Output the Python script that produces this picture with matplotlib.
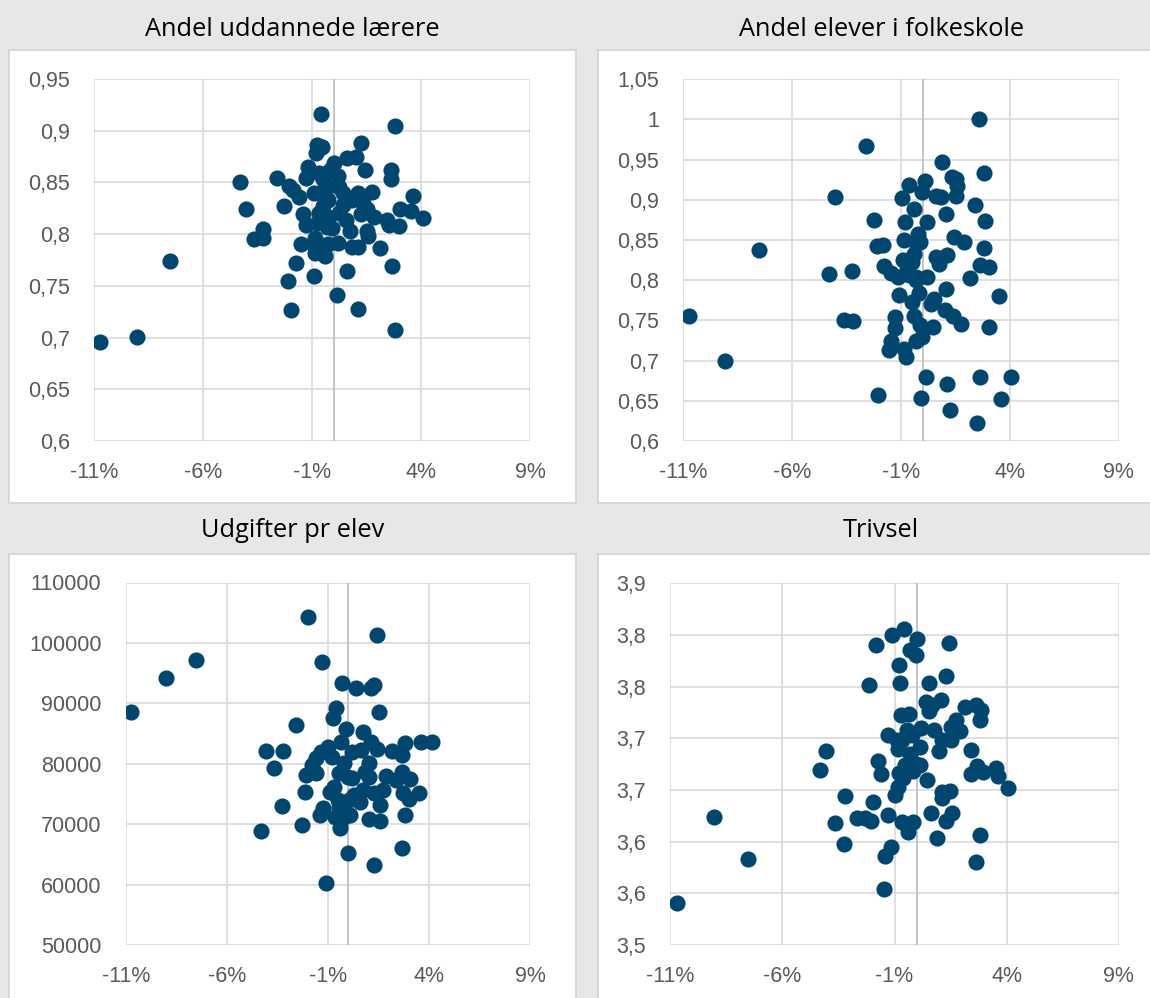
import matplotlib
matplotlib.use("Agg")
import matplotlib.pyplot as plt
from matplotlib.patches import Rectangle
from matplotlib.ticker import FuncFormatter, MultipleLocator
from decimal import Decimal, ROUND_HALF_UP

# x: aendring i procent, y: panelets variabel
titles = ["Andel uddannede lærere", "Andel elever i folkeskole",
          "Udgifter pr elev", "Trivsel"]

x1 = [-10.75, -9.06, -7.53, -4.32, -4.05, -3.26, -3.66, -3.26, -2.60, -2.31,
      -2.08, -1.86, -1.60, -1.44, -1.30, -1.49, -1.76, -2.11, -1.99, -0.92,
      -0.85, -0.88, -0.42, -0.60, -0.77, -0.55, -0.82, -1.19, -1.27, -0.93,
      -0.68, -0.51, -0.34, -0.25, -0.51, -0.68, -0.77, -0.25, -0.08, 0.00,
      0.17, 0.25, 0.42, 0.42, 0.54, 0.76, 0.17, -0.25, 0.59, 1.03,
      1.26, 1.42, 1.09, 1.76, 1.34, 1.26, 1.54, 1.56, 1.84, 0.84,
      1.12, 2.13, 0.62, 0.12, 1.09, 2.67, 2.80, 2.80, 2.62, 2.62,
      2.43, 2.55, 2.99, 3.02, 3.53, 3.61, 4.08, -0.98, -0.17, -0.68,
      -0.34, 0.25, 0.84, 1.51]
y1 = [0.696, 0.701, 0.774, 0.850, 0.824, 0.805, 0.795, 0.796, 0.854, 0.827,
      0.847, 0.843, 0.836, 0.819, 0.809, 0.790, 0.772, 0.755, 0.727, 0.760,
      0.796, 0.782, 0.779, 0.916, 0.886, 0.884, 0.878, 0.865, 0.854, 0.840,
      0.859, 0.853, 0.846, 0.833, 0.827, 0.820, 0.811, 0.817, 0.806, 0.869,
      0.856, 0.846, 0.840, 0.828, 0.814, 0.803, 0.791, 0.790, 0.874, 0.875,
      0.888, 0.862, 0.840, 0.841, 0.830, 0.819, 0.803, 0.798, 0.817, 0.788,
      0.788, 0.787, 0.764, 0.741, 0.728, 0.769, 0.707, 0.905, 0.862, 0.853,
      0.814, 0.809, 0.808, 0.824, 0.822, 0.837, 0.816, 0.790, 0.862, 0.840,
      0.807, 0.820, 0.833, 0.824]

x2 = [-10.73, -9.06, -7.52, -4.05, -4.30, -3.26, -3.63, -3.22, -2.62, -2.25,
      -2.08, -1.83, -1.78, -1.45, -1.15, -2.06, -1.57, -1.45, -1.27, -1.27,
      -1.10, -0.95, -0.65, -0.81, -0.39, -0.87, -0.31, -0.14, -0.39, -0.93,
      -0.48, -0.73, -0.31, 0.20, -0.48, -0.19, -0.39, -0.14, 0.45, -0.87,
      -0.76, -0.31, -0.05, -0.09, 0.14, 0.11, -0.05, 0.20, 0.62, 0.82,
      0.90, 1.07, 0.62, 0.75, 1.09, 1.07, 0.50, 0.36, 1.00, 1.37,
      1.76, 1.45, 1.88, 1.32, 1.54, 1.59, 1.51, 2.38, 2.80, 2.84,
      2.80, 2.64, 3.02, 2.16, 3.51, 3.02, 2.60, 2.64, 1.09, 1.24,
      2.47, 3.61, 4.07, -0.22, -0.31, -0.61]
y2 = [0.756, 0.700, 0.838, 0.903, 0.808, 0.812, 0.750, 0.749, 0.967, 0.875,
      0.842, 0.844, 0.818, 0.809, 0.804, 0.657, 0.713, 0.724, 0.740, 0.754,
      0.782, 0.902, 0.919, 0.873, 0.889, 0.850, 0.846, 0.848, 0.833, 0.825,
      0.823, 0.813, 0.804, 0.804, 0.773, 0.784, 0.755, 0.744, 0.742, 0.714,
      0.705, 0.724, 0.730, 0.653, 0.680, 0.923, 0.910, 0.873, 0.905, 0.904,
      0.947, 0.883, 0.829, 0.820, 0.831, 0.789, 0.777, 0.771, 0.763, 0.755,
      0.745, 0.854, 0.848, 0.929, 0.926, 0.917, 0.905, 0.894, 0.934, 0.874,
      0.840, 0.819, 0.816, 0.803, 0.780, 0.742, 1.000, 0.680, 0.671, 0.639,
      0.623, 0.652, 0.680, 0.858, 0.800, 0.806]

x3 = [-10.73, -9.01, -7.50, -4.33, -4.05, -3.24, -3.64, -3.28, -2.60, -2.00,
      -1.28, -2.28, -2.12, -2.06, -1.57, -1.79, -1.57, -1.34, -1.10, -1.39,
      -1.24, -0.97, -0.79, -0.88, -0.70, -0.52, -0.65, -0.39, -0.25, 0.11,
      -0.61, -0.74, -0.28, -0.10, -0.34, -0.19, -0.43, 0.00, 0.21, 0.00,
      0.39, 1.11, 1.29, 1.42, 1.51, 0.75, 0.66, 0.21, 1.11, 1.42,
      1.02, 0.84, 1.02, 0.30, 0.57, 0.75, 1.29, 1.75, 1.57, 1.02,
      1.57, 1.26, 2.65, 1.89, 2.16, 2.65, 2.83, 2.38, 2.65, 3.07,
      2.74, 3.02, 3.52, 2.80, 3.61, 4.14, -0.43, 0.04]
y3 = [88600, 94230, 97150, 68860, 82150, 82150, 79230, 73000, 86400, 104320,
      96880, 69850, 75370, 78130, 78400, 79780, 80880, 81990, 60200, 71500,
      72600, 82800, 81160, 75370, 76200, 74000, 71230, 69300, 70960, 71500,
      89160, 87500, 93400, 85680, 83640, 80060, 78400, 77850, 77580, 65280,
      92470, 92470, 93020, 101290, 88600, 85300, 82260, 81990, 83640, 82370,
      80060, 78680, 77850, 74820, 73720, 75650, 75100, 75650, 73160, 70790,
      70520, 63240, 66100, 77960, 82150, 81440, 83370, 77300, 78680, 77410,
      75100, 74100, 75100, 71500, 83640, 83640, 72890, 74000]

x4 = [-10.72, -9.07, -7.52, -4.33, -4.05, -3.23, -3.64, -3.26, -2.66, -2.33,
      -2.04, -1.97, -1.76, -1.60, -2.12, -1.84, -1.10, -0.58, -0.01, -0.29,
      -0.04, -0.81, -0.75, 0.53, 1.30, 1.43, 0.41, 0.66, 1.05, 0.53,
      -0.73, -0.37, -1.27, -0.89, -0.45, -0.21, 0.20, 0.12, -0.86, -0.29,
      -0.53, 0.12, -0.17, -0.81, -0.62, -0.86, -0.98, 0.45, 0.77, 1.10,
      0.99, 1.51, 1.92, 1.51, 1.76, 2.13, 2.62, 2.87, 2.79, 2.41,
      2.41, 2.69, 2.95, 3.52, 3.60, 4.08, 1.10, 1.46, 1.10, 0.61,
      1.54, 1.30, 0.89, 2.82, 2.65, -1.27, -0.65, -0.17, -0.42, -1.16,
      -1.43, -1.48, -0.13, -0.65]
y4 = [3.541, 3.624, 3.583, 3.669, 3.688, 3.644, 3.618, 3.598, 3.623, 3.623,
      3.620, 3.638, 3.678, 3.665, 3.752, 3.790, 3.800, 3.806, 3.796, 3.785,
      3.781, 3.771, 3.754, 3.754, 3.760, 3.792, 3.735, 3.732, 3.737, 3.726,
      3.723, 3.724, 3.703, 3.698, 3.708, 3.703, 3.710, 3.692, 3.690, 3.685,
      3.674, 3.674, 3.668, 3.666, 3.662, 3.653, 3.645, 3.660, 3.708, 3.698,
      3.688, 3.698, 3.707, 3.711, 3.718, 3.730, 3.732, 3.727, 3.718, 3.689,
      3.665, 3.673, 3.667, 3.671, 3.664, 3.652, 3.648, 3.649, 3.642, 3.628,
      3.628, 3.620, 3.604, 3.606, 3.580, 3.626, 3.619, 3.619, 3.609, 3.595,
      3.586, 3.554, 3.676, 3.698]

xs = [x1, x2, x3, x4]
ys = [y1, y2, y3, y4]
ylims = [(0.6, 0.95, 0.05), (0.6, 1.05, 0.05), (50000, 110000, 10000), (3.5, 3.85, 0.05)]

W, H = 1150, 998
BG = "#e7e7e7"
DOT = "#00466e"
GRID = "#d9d9d9"
TICK = "#595959"


def frac(l, t, r, b):
    return [l / W, 1 - b / H, (r - l) / W, (b - t) / H]


def fmt_general(v, pos):
    s = f"{v:.2f}".rstrip("0").rstrip(".")
    return s.replace(".", ",")


def fmt_int(v, pos):
    return f"{int(round(v))}"


def fmt_one(v, pos):
    d = Decimal(str(round(v, 4))).quantize(Decimal("0.1"), rounding=ROUND_HALF_UP)
    return str(d).replace(".", ",")


def fmt_pct(v, pos):
    return f"{int(round(v))}%"


yfmts = [fmt_general, fmt_general, fmt_int, fmt_one]

boxes = [(9, 50, 576, 503), (597.7, 50, 1170, 503),
         (9, 554, 576, 1010), (597.7, 554, 1170, 1010)]
axpos = [(94.3, 79, 530, 441), (683.2, 79.3, 1118.8, 441),
         (125.7, 582.5, 530, 945), (670.3, 583.3, 1118.8, 945)]
title_base = [36.5, 36.5, 537, 537]

fig = plt.figure(figsize=(W / 100, H / 100), dpi=100, facecolor=BG)

for i in range(4):
    l, t, r, b = boxes[i]
    fig.patches.append(Rectangle((l / W, 1 - b / H), (r - l) / W, (b - t) / H,
                                 transform=fig.transFigure, facecolor="white",
                                 edgecolor="#d2d2d2", linewidth=1.2, zorder=-5))
    fig.text((l + min(r, l + 567)) / 2 / W, 1 - title_base[i] / H, titles[i],
             ha="center", va="baseline", fontsize=18.3, family="Open Sans",
             color="black")

    ax = fig.add_axes(frac(*axpos[i]))
    ax.set_zorder(2)
    ax.set_facecolor("white")
    ax.scatter(xs[i], ys[i], s=135, color=DOT, linewidths=0, zorder=3)
    ax.axvline(0, color="#bfbfbf", linewidth=1.3, zorder=2)

    y0, y1_, step = ylims[i]
    ax.set_xlim(-11, 9)
    ax.set_ylim(y0, y1_)
    ax.yaxis.set_major_locator(MultipleLocator(step))
    ax.xaxis.set_major_formatter(FuncFormatter(fmt_pct))
    ax.yaxis.set_major_formatter(FuncFormatter(yfmts[i]))
    ax.set_xticks([-11, -6, -1, 4, 9])
    ax.grid(True, color=GRID, linewidth=1.2, zorder=1)
    ax.set_axisbelow(True)
    for sp in ax.spines.values():
        sp.set_visible(False)
    ax.tick_params(axis="both", length=0, labelsize=15.5, labelcolor=TICK)
    ax.tick_params(axis="x", pad=15)
    ax.tick_params(axis="y", pad=17.5)
    for lab in ax.get_xticklabels() + ax.get_yticklabels():
        lab.set_family("Liberation Sans")

fig.savefig("out.png", dpi=100, facecolor=BG)
